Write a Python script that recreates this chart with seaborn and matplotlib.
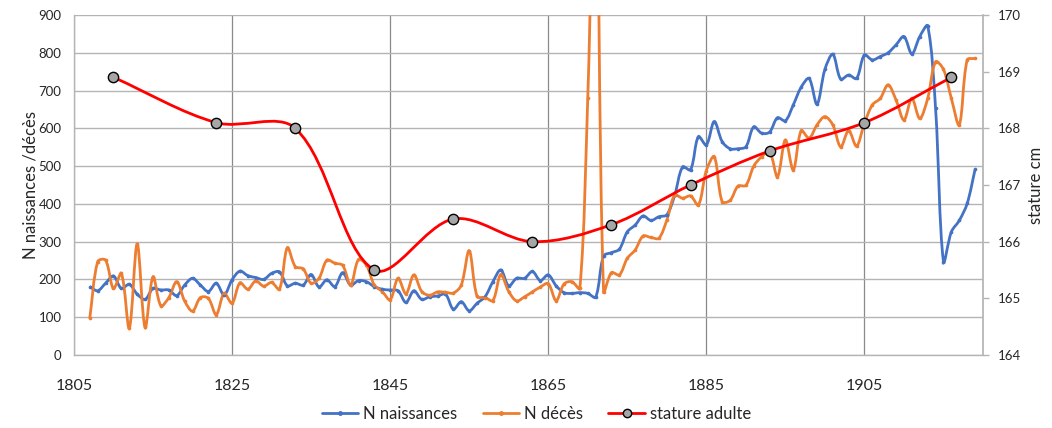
import matplotlib
matplotlib.use("Agg")
import matplotlib.pyplot as plt
import seaborn as sns
import numpy as np
from matplotlib.path import Path
from matplotlib.patches import PathPatch
from matplotlib.lines import Line2D

# Data
years = list(range(1807, 1920))

naissances = [
    181, 170, 190, 209, 176, 187, 161, 147, 176, 172,   # 1807-1816
    172, 157, 185, 203, 185, 168, 190, 159, 199, 222,   # 1817-1826
    210, 205, 200, 216, 220, 183, 190, 185, 213, 180,   # 1827-1836
    199, 181, 218, 185, 197, 194, 181, 174, 172, 170,   # 1837-1846
    139, 170, 147, 154, 156, 161, 121, 141, 117, 137,   # 1847-1856
    154, 194, 225, 183, 203, 203, 221, 197, 212, 183,   # 1857-1866
    165, 163, 165, 163, 153, 262, 271, 280, 326, 344,   # 1867-1876
    368, 356, 366, 371, 423, 498, 490, 578, 556, 618,   # 1877-1886
    565, 546, 546, 551, 604, 587, 590, 628, 620, 662,   # 1887-1896
    709, 732, 664, 756, 796, 730, 741, 732, 794, 781,   # 1897-1906
    790, 800, 821, 843, 797, 843, 871, 653, 247, 326,   # 1907-1916
    356, 401, 491,                                      # 1917-1919
]

deces = [
    97, 247, 251, 176, 216, 71, 294, 73, 207, 130,      # 1807-1816
    152, 194, 143, 116, 152, 150, 107, 163, 137, 191,   # 1817-1826
    174, 196, 182, 192, 174, 284, 234, 228, 190, 203,   # 1827-1836
    251, 243, 237, 185, 253, 238, 185, 168, 146, 203,   # 1837-1846
    162, 212, 168, 158, 167, 166, 164, 185, 276, 155,   # 1847-1856
    152, 144, 213, 168, 143, 154, 167, 180, 189, 144,   # 1857-1866
    188, 194, 176, 680, 1400, 168, 218, 212, 256, 278,  # 1867-1876
    315, 311, 309, 357, 423, 415, 421, 397, 488, 525,   # 1877-1886
    406, 409, 447, 449, 500, 525, 538, 472, 569, 490,   # 1887-1896
    594, 574, 609, 631, 609, 551, 594, 553, 613, 662,   # 1897-1906
    679, 715, 675, 622, 679, 626, 679, 776, 756, 679,   # 1907-1916
    609, 781, 785,                                      # 1917-1919
]

stature_years = [1810, 1823, 1833, 1843, 1853, 1863, 1873, 1883, 1893, 1905, 1916]
stature = [168.9, 168.1, 168.0, 165.5, 166.4, 166.0, 166.3, 167.0, 167.6, 168.1, 168.9]

BLUE = "#4472c4"
ORANGE = "#ed7d31"
RED = "#ff0000"
TXT = "#262626"


def smooth_path(axis, x, y):
    # Excel-like smoothed line: cubic Bezier through each point, tangents
    # weighted by segment lengths measured on screen
    pts = np.column_stack([np.asarray(x, float), np.asarray(y, float)])
    scr = axis.transData.transform(pts)
    n = len(pts)
    seg = np.hypot(*np.diff(scr, axis=0).T)
    tang = np.zeros_like(pts)
    for i in range(n):
        a = max(i - 1, 0)
        b = min(i + 1, n - 1)
        span = (seg[a] if i > 0 else 0) + (seg[i] if i < n - 1 else 0)
        tang[i] = (pts[b] - pts[a]) / span
    verts = [tuple(pts[0])]
    codes = [Path.MOVETO]
    for i in range(n - 1):
        c1 = pts[i] + tang[i] * seg[i] / 3
        c2 = pts[i + 1] - tang[i + 1] * seg[i] / 3
        verts += [tuple(c1), tuple(c2), tuple(pts[i + 1])]
        codes += [Path.CURVE4] * 3
    return Path(verts, codes)


sns.set_theme(style="white")
plt.rcParams["font.family"] = ["Lato", "DejaVu Sans"]

fig = plt.figure(figsize=(10.52, 4.28), dpi=100)
ax = fig.add_axes([0.0703, 0.1706, 0.8641, 0.7944])
ax.set_xlim(1805, 1920)
ax.set_ylim(0, 900)

ax.add_patch(PathPatch(smooth_path(ax, years, naissances), facecolor="none",
                       edgecolor=BLUE, lw=2, zorder=3))
ax.add_patch(PathPatch(smooth_path(ax, years, deces), facecolor="none",
                       edgecolor=ORANGE, lw=2, zorder=3))
sns.scatterplot(x=years, y=naissances, ax=ax, color=BLUE, s=7,
                linewidth=0, zorder=4)
sns.scatterplot(x=years, y=deces, ax=ax, color=ORANGE, s=7,
                linewidth=0, zorder=4)

ax.set_xlim(1805, 1920)
ax.set_ylim(0, 900)
ax.set_xticks(range(1805, 1906, 20))
ax.set_yticks(range(0, 901, 100))
ax.grid(axis="y", color="#b4b4b4", lw=1)
ax.grid(axis="x", color="#8a8a8a", lw=0.9)
ax.set_axisbelow(True)
ax.tick_params(axis="x", length=0, pad=17, labelsize=11.5, colors=TXT)
ax.tick_params(axis="y", length=0, pad=9, labelsize=9.5, colors=TXT)
for s in ["top", "right"]:
    ax.spines[s].set_visible(False)
for s in ["left", "bottom"]:
    ax.spines[s].set_color("#b4b4b4")
    ax.spines[s].set_linewidth(1)
ax.set_ylabel("N naissances /décès", fontsize=12, color=TXT, labelpad=0)

ax2 = ax.twinx()
ax2.set_ylim(164, 170)
ax2.add_patch(PathPatch(smooth_path(ax2, stature_years, stature),
                        facecolor="none", edgecolor=RED, lw=2, zorder=3))
sns.scatterplot(x=stature_years, y=stature, ax=ax2, color="#a6a6a6", s=55,
                edgecolor="black", linewidth=1, zorder=4)
ax2.set_ylim(164, 170)
ax2.set_yticks(range(164, 171))
ax2.tick_params(axis="y", length=4, width=1, color="#b4b4b4", pad=7,
                labelsize=9.5, labelcolor=TXT)
for s in ["top", "left", "bottom"]:
    ax2.spines[s].set_visible(False)
ax2.spines["right"].set_color("#b4b4b4")
ax2.set_ylabel("stature cm", fontsize=12, color=TXT, labelpad=5, rotation=90)

handles = [
    Line2D([], [], color=BLUE, lw=2, marker="o", ms=2.5),
    Line2D([], [], color=ORANGE, lw=2, marker="o", ms=2.5),
    Line2D([], [], color=RED, lw=2, marker="o", ms=6,
           markerfacecolor="#a6a6a6", markeredgecolor="black"),
]
fig.legend(handles, ["N naissances", "N décès", "stature adulte"],
           loc="lower center", bbox_to_anchor=(0.51, -0.02), ncol=3,
           frameon=False, fontsize=12, handlelength=2.2, handletextpad=0.3,
           columnspacing=1.5)

fig.savefig("out.png", dpi=100)
